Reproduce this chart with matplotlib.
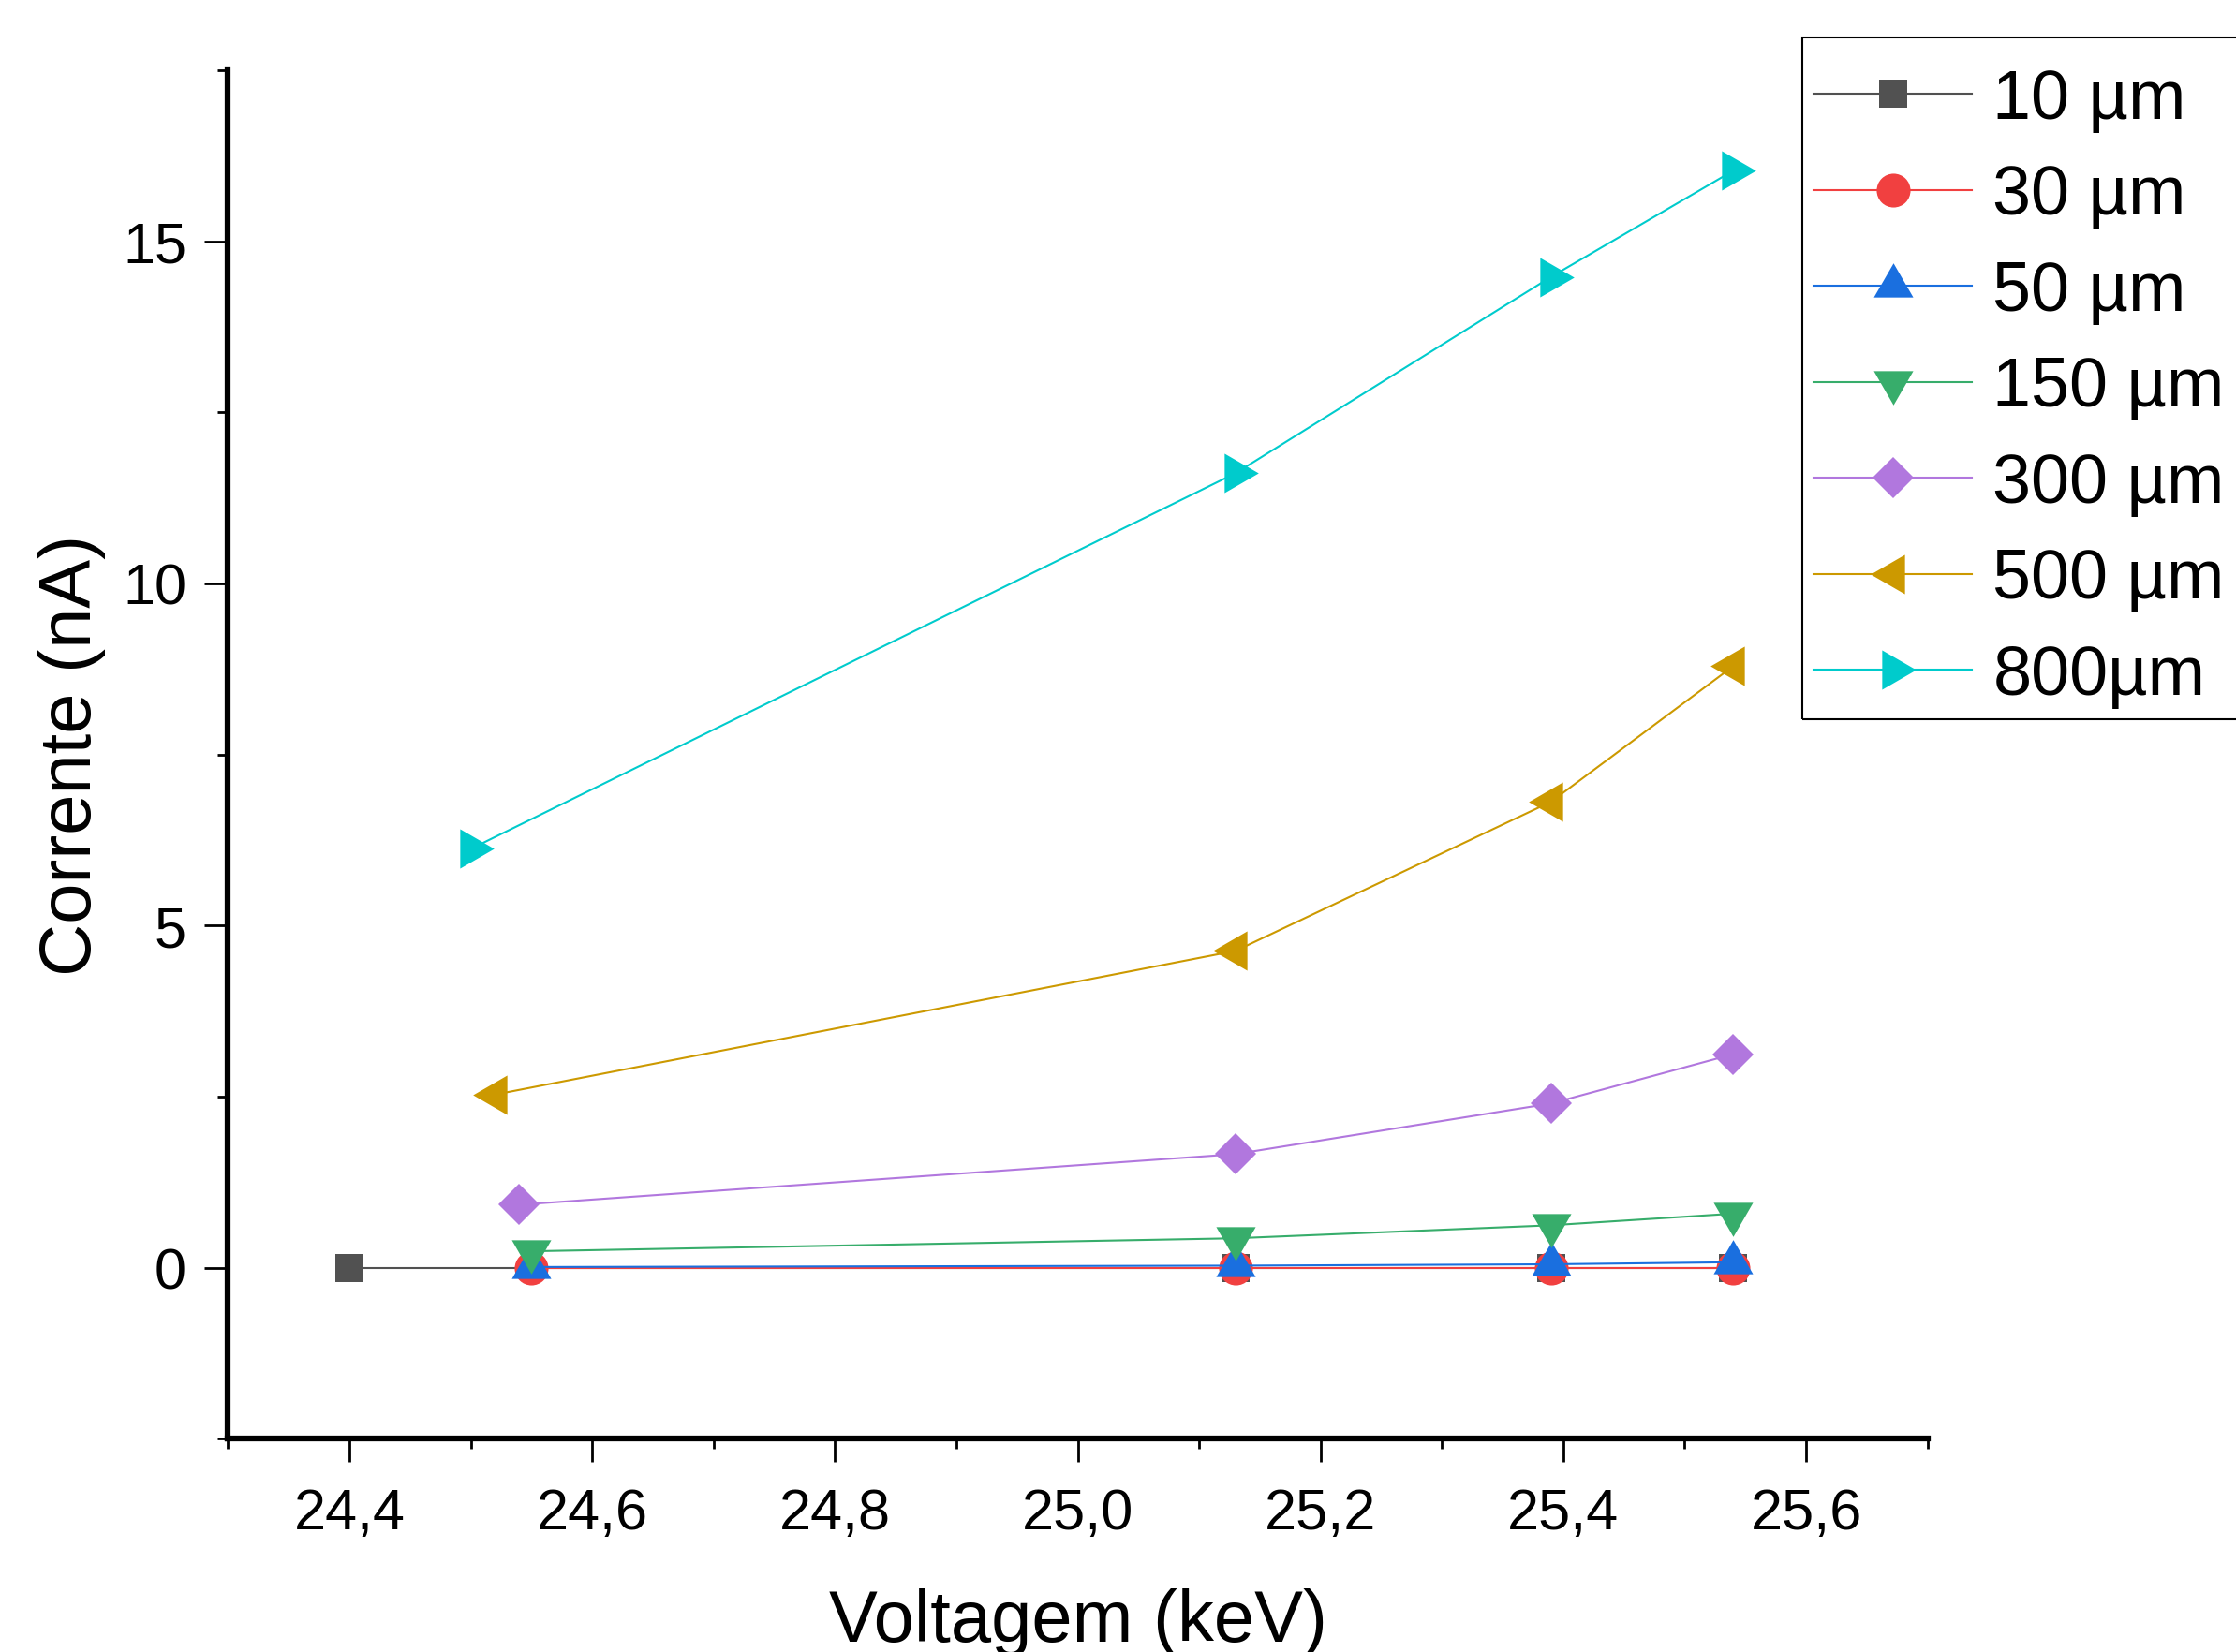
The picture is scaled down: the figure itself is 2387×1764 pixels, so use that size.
import matplotlib
matplotlib.use("Agg")
import numpy as np
import matplotlib.pyplot as plt
from matplotlib.ticker import MultipleLocator, FuncFormatter
from matplotlib.path import Path
from matplotlib.patches import Rectangle

plt.rcParams['font.family'] = ['Liberation Sans', 'DejaVu Sans']

labels = ['10 µm', '30 µm', '50 µm', '150 µm', '300 µm', '500 µm', '800µm']
colors = ['#515151', '#F14040', '#1A6FDF', '#37AD6B', '#B177DE', '#CC9900', '#00CBCC']

x_10 = [24.40, 25.13, 25.39, 25.54]
y_10 = [0.0, 0.0, 0.0, 0.0]
x_30 = [24.55, 25.13, 25.39, 25.54]
y_30 = [0.0, 0.0, 0.0, 0.0]
x_50 = [24.55, 25.13, 25.39, 25.54]
y_50 = [0.01, 0.03, 0.05, 0.08]
x_150 = [24.55, 25.13, 25.39, 25.54]
y_150 = [0.24, 0.43, 0.62, 0.79]
x_300 = [24.54, 25.13, 25.39, 25.54]
y_300 = [0.92, 1.66, 2.40, 3.12]
x_500 = [24.52, 25.13, 25.39, 25.54]
y_500 = [2.53, 4.63, 6.81, 8.79]
x_800 = [24.50, 25.13, 25.39, 25.54]
y_800 = [6.12, 11.61, 14.48, 16.03]

xs = [x_10, x_30, x_50, x_150, x_300, x_500, x_800]
ys = [y_10, y_30, y_50, y_150, y_300, y_500, y_800]


# equilateral triangles centred on their centroid, like Origin draws them
def tri(angle):
    a = np.deg2rad(angle)
    pts = []
    for k in range(3):
        t = a + k * 2 * np.pi / 3
        pts.append((np.cos(t), np.sin(t)))
    pts.append(pts[0])
    return Path(pts, [Path.MOVETO, Path.LINETO, Path.LINETO, Path.CLOSEPOLY])


markers = ['s', 'o', tri(90), tri(-90), 'D', tri(180), tri(0)]
msizes = [22, 26, 35, 35, 22, 35, 35]

fig = plt.figure(figsize=(23.87, 17.65), dpi=100)
ax = fig.add_axes([0.102, 0.129, 0.760, 0.828])

for x, y, c, m, ms, lab in zip(xs, ys, colors, markers, msizes, labels):
    ax.plot(x, y, color=c, lw=1.5, marker=m, markersize=ms,
            markeredgewidth=0, label=lab)

ax.set_xlim(24.3, 25.7)
ax.set_ylim(-2.5, 17.5)
ax.xaxis.set_major_locator(MultipleLocator(0.2))
ax.xaxis.set_minor_locator(MultipleLocator(0.1))
ax.yaxis.set_major_locator(MultipleLocator(5))
ax.yaxis.set_minor_locator(MultipleLocator(2.5))
ax.xaxis.set_major_formatter(FuncFormatter(lambda v, p: '{0:.1f}'.format(v).replace('.', ',')))
ax.yaxis.set_major_formatter(FuncFormatter(lambda v, p: '{0:g}'.format(v)))

ax.spines['top'].set_visible(False)
ax.spines['right'].set_visible(False)
ax.spines['left'].set_linewidth(4.5)
ax.spines['bottom'].set_linewidth(4.5)
ax.tick_params(which='major', direction='out', length=18, width=2, labelsize=44)
ax.tick_params(axis='x', which='major', pad=19)
ax.tick_params(axis='y', which='major', pad=14)
ax.tick_params(which='minor', direction='out', length=8, width=2)

ax.set_xlabel('Voltagem (keV)', fontsize=56, labelpad=36)
ax.set_ylabel('Corrente (nA)', fontsize=56, labelpad=13)

W, H = 2387.0, 1765.0
leg = ax.legend(loc='upper left', bbox_to_anchor=(1936 / W, 1 - 73 / H),
                bbox_transform=fig.transFigure, fontsize=53, frameon=False,
                handlelength=2.3, handletextpad=0.3, labelspacing=0.455,
                borderpad=0, borderaxespad=0)
fig.patches.append(Rectangle((1924 / W, 1 - 769 / H), 500 / W, 728 / H,
                             transform=fig.transFigure, fill=False,
                             edgecolor='black', linewidth=1.5))

fig.savefig('out.png', dpi=100)
